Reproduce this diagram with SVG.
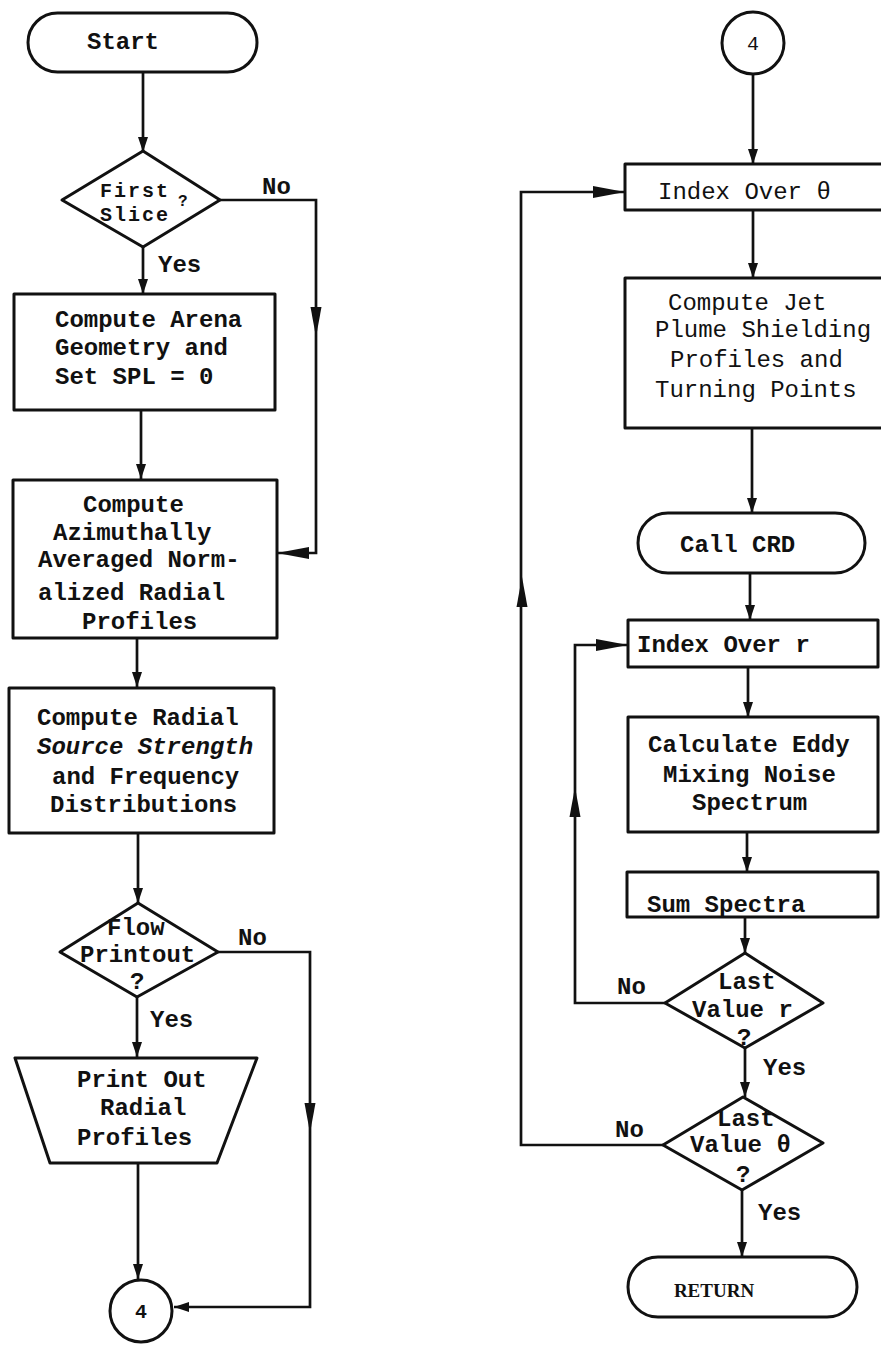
<svg xmlns="http://www.w3.org/2000/svg" width="881" height="1345" viewBox="0 0 881 1345">
<style>
.n{fill:#fff;stroke:#111;stroke-width:3;stroke-linejoin:round}
.c{fill:none;stroke:#111;stroke-width:2.7;stroke-linejoin:miter}
.t{font-family:"Liberation Mono","DejaVu Sans Mono",monospace;font-size:24px;fill:#111;font-weight:bold}
.l{font-weight:normal}
.r{font-family:"Liberation Serif","Times New Roman",serif;font-size:19px;font-weight:bold;fill:#111}
.h{fill:#111}
</style>
<defs>
<marker id="a" markerUnits="userSpaceOnUse" markerWidth="16" markerHeight="12" refX="15" refY="5" orient="auto">
<path d="M0,0 L15,5 L0,10 z" fill="#111"/>
</marker>
<marker id="b" markerUnits="userSpaceOnUse" markerWidth="34" markerHeight="14" refX="32" refY="6" orient="auto">
<path d="M0,0 L32,6 L0,12 z" fill="#111"/>
</marker>
<path id="m" d="M-5.5,-30 L5.5,-30 L0,0 z"/>
</defs>

<g id="connectors">
<path class="c" d="M143,72 V152" marker-end="url(#a)"/>
<path class="c" d="M143,247 V294" marker-end="url(#a)"/>
<path class="c" d="M220,200 H316 V553 H277" marker-end="url(#b)"/>
<use href="#m" class="h" transform="translate(316,337)"/>
<path class="c" d="M141,410 V479" marker-end="url(#a)"/>
<path class="c" d="M137,638 V687" marker-end="url(#a)"/>
<path class="c" d="M138,833 V903" marker-end="url(#a)"/>
<path class="c" d="M137,997 V1057" marker-end="url(#a)"/>
<path class="c" d="M218,952 H310 V1307 H174" marker-end="url(#a)"/>
<use href="#m" class="h" transform="translate(310,1133)"/>
<path class="c" d="M138,1163 V1279" marker-end="url(#a)"/>

<path class="c" d="M753,74 V164" marker-end="url(#a)"/>
<path class="c" d="M753,210 V278" marker-end="url(#a)"/>
<path class="c" d="M752,428 V513" marker-end="url(#a)"/>
<path class="c" d="M750,573 V620" marker-end="url(#a)"/>
<path class="c" d="M748,667 V717" marker-end="url(#a)"/>
<path class="c" d="M747,832 V872" marker-end="url(#a)"/>
<path class="c" d="M745,917 V953" marker-end="url(#a)"/>
<path class="c" d="M745,1048 V1097" marker-end="url(#a)"/>
<path class="c" d="M742,1190 V1257" marker-end="url(#a)"/>
<path class="c" d="M665,1003 H575 V645 H628" marker-end="url(#b)"/>
<use href="#m" class="h" transform="translate(575,787) rotate(180)"/>
<path class="c" d="M663,1145 H521 V192 H625" marker-end="url(#b)"/>
<use href="#m" class="h" transform="translate(522,577) rotate(180)"/>

<text class="t" x="262" y="194">No</text>
<text class="t" x="158" y="272">Yes</text>
<text class="t" x="238" y="945">No</text>
<text class="t" x="150" y="1027">Yes</text>
<text class="t" x="617" y="994">No</text>
<text class="t" x="763" y="1075">Yes</text>
<text class="t" x="615" y="1137">No</text>
<text class="t" x="758" y="1220">Yes</text>
</g>

<g id="start">
<rect class="n" x="28" y="13" width="229" height="59" rx="29.5"/>
<text class="t" x="87" y="49">Start</text>
</g>

<g id="firstSlice">
<path class="n" d="M143,151 L220,200 L143,247 L62,200 z"/>
<text class="t" x="100" y="197" style="font-size:20px;letter-spacing:2px">First</text>
<text class="t" x="178" y="206" style="font-size:16px">?</text>
<text class="t" x="100" y="221" style="font-size:20px;letter-spacing:2px">Slice</text>
</g>

<g id="arena">
<rect class="n" x="14" y="294" width="261" height="116"/>
<text class="t" x="55" y="327">Compute Arena</text>
<text class="t" x="55" y="355">Geometry and</text>
<text class="t" x="55" y="384">Set SPL = 0</text>
</g>

<g id="azimuthal">
<rect class="n" x="13" y="480" width="264" height="158"/>
<text class="t" x="83" y="512">Compute</text>
<text class="t" x="53" y="540">Azimuthally</text>
<text class="t" x="38" y="567">Averaged Norm-</text>
<text class="t" x="38" y="600">alized Radial</text>
<text class="t" x="82" y="629">Profiles</text>
</g>

<g id="sourceStrength">
<rect class="n" x="9" y="688" width="265" height="145"/>
<text class="t" x="37" y="725">Compute Radial</text>
<text class="t" x="37" y="754" font-style="italic">Source Strength</text>
<text class="t" x="52" y="784">and Frequency</text>
<text class="t" x="50" y="812">Distributions</text>
</g>

<g id="flowPrintout">
<path class="n" d="M138,903 L218,952 L137,997 L60,952 z"/>
<text class="t" x="107" y="935">Flow</text>
<text class="t" x="80" y="962">Printout</text>
<text class="t" x="130" y="989">?</text>
</g>

<g id="printOut">
<path class="n" d="M15,1058 L257,1058 L217,1163 L50,1163 z"/>
<text class="t" x="77" y="1087">Print Out</text>
<text class="t" x="100" y="1115">Radial</text>
<text class="t" x="77" y="1145">Profiles</text>
</g>

<g id="connector4a">
<circle class="n" cx="141" cy="1311" r="31"/>
<text class="t" x="141" y="1318" text-anchor="middle" style="font-size:20px">4</text>
</g>

<g id="connector4b">
<circle class="n" cx="753" cy="43" r="31"/>
<text class="t l" x="753" y="50" text-anchor="middle" style="font-size:20px">4</text>
</g>

<g id="indexTheta">
<rect class="n" x="625" y="164" width="262" height="46"/>
<text class="t l" x="658" y="199">Index Over θ</text>
</g>

<g id="shielding">
<rect class="n" x="625" y="278" width="262" height="150"/>
<text class="t l" x="668" y="310">Compute Jet</text>
<text class="t l" x="655" y="337">Plume Shielding</text>
<text class="t l" x="670" y="367">Profiles and</text>
<text class="t l" x="655" y="397">Turning Points</text>
</g>

<g id="callCRD">
<rect class="n" x="638" y="513" width="227" height="60" rx="30"/>
<text class="t" x="680" y="552">Call CRD</text>
</g>

<g id="indexR">
<rect class="n" x="628" y="620" width="250" height="47"/>
<text class="t" x="637" y="652">Index Over r</text>
</g>

<g id="eddy">
<rect class="n" x="628" y="717" width="250" height="115"/>
<text class="t" x="648" y="752">Calculate Eddy</text>
<text class="t" x="663" y="782">Mixing Noise</text>
<text class="t" x="692" y="810">Spectrum</text>
</g>

<g id="sumSpectra">
<rect class="n" x="627" y="872" width="251" height="45"/>
<text class="t" x="647" y="912">Sum Spectra</text>
</g>

<g id="lastR">
<path class="n" d="M745,953 L823,1003 L745,1048 L665,1003 z"/>
<text class="t" x="718" y="989">Last</text>
<text class="t" x="692" y="1017">Value r</text>
<text class="t" x="737" y="1045">?</text>
</g>

<g id="lastTheta">
<path class="n" d="M743,1097 L823,1143 L742,1190 L663,1145 z"/>
<text class="t" x="717" y="1126">Last</text>
<text class="t" x="690" y="1152">Value θ</text>
<text class="t" x="736" y="1182">?</text>
</g>

<g id="return">
<rect class="n" x="628" y="1257" width="229" height="60" rx="30"/>
<text class="r" x="714" y="1297" text-anchor="middle">RETURN</text>
</g>
</svg>
